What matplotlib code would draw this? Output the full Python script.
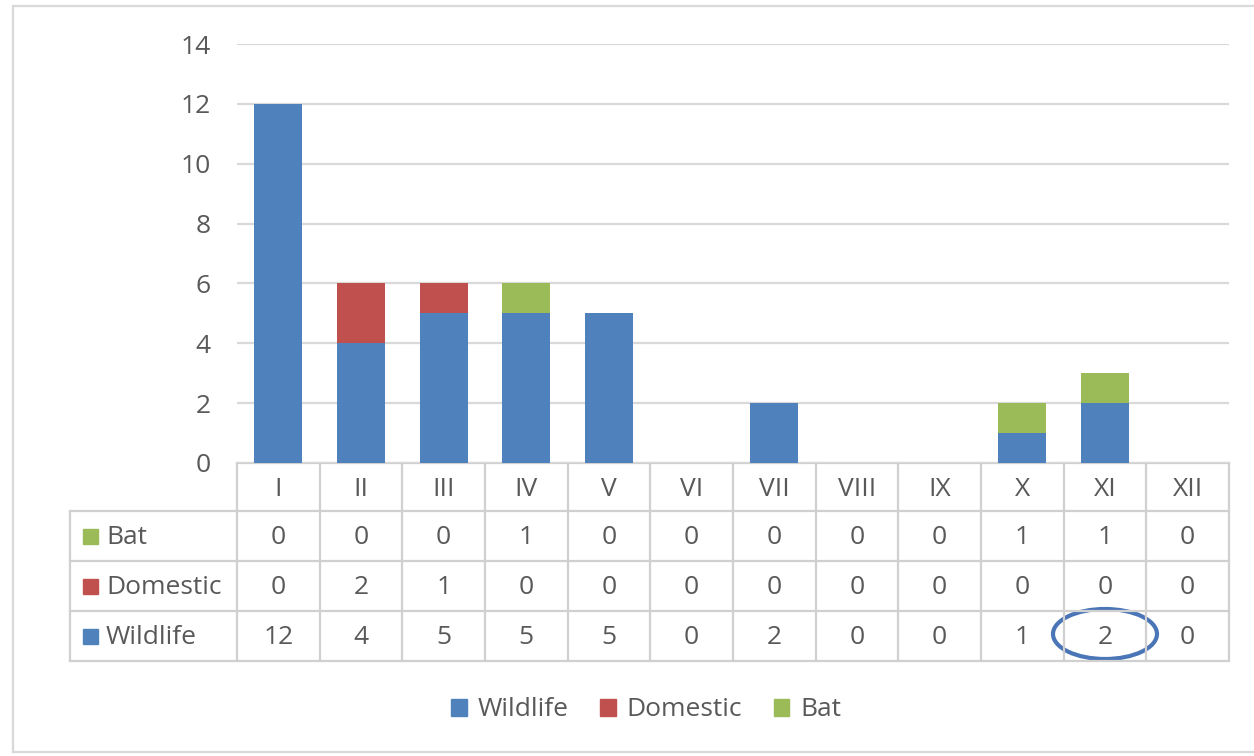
import matplotlib
matplotlib.use("Agg")
import matplotlib.pyplot as plt
from matplotlib.patches import Patch, Rectangle, Ellipse
import numpy as np

months = ["I", "II", "III", "IV", "V", "VI", "VII", "VIII", "IX", "X", "XI", "XII"]
wildlife = [12, 4, 5, 5, 5, 0, 2, 0, 0, 1, 2, 0]
domestic = [0, 2, 1, 0, 0, 0, 0, 0, 0, 0, 0, 0]
bat = [0, 0, 0, 1, 0, 0, 0, 0, 0, 1, 1, 0]
yticks = [0, 2, 4, 6, 8, 10, 12, 14]

C_WILD = "#4F81BD"
C_DOM = "#C0504D"
C_BAT = "#9BBB59"
TXT = "#595959"
GRID = "#D9D9D9"
FONT = ["Open Sans", "DejaVu Sans"]
plt.rcParams["font.family"] = FONT
FS = 19

W, H = 1254, 756
fig = plt.figure(figsize=(W / 100, H / 100), dpi=100)

# overlay axes in pixel coordinates (y downward)
ov = fig.add_axes([0, 0, 1, 1])
ov.set_xlim(0, W)
ov.set_ylim(H, 0)
ov.axis("off")

ax = fig.add_axes([237 / W, 1 - 463 / H, (1229 - 237) / W, (463 - 44) / H])
x = np.arange(len(months))
bw = 0.58
wild = np.array(wildlife)
dom = np.array(domestic)
bt = np.array(bat)
ax.bar(x, wild, bw, color=C_WILD, zorder=3)
ax.bar(x, dom, bw, bottom=wild, color=C_DOM, zorder=3)
ax.bar(x, bt, bw, bottom=wild + dom, color=C_BAT, zorder=3)
ax.set_xlim(-0.5, len(months) - 0.5)
ax.set_ylim(0, 14)
ax.set_yticks(yticks)
ax.yaxis.grid(True, color=GRID, lw=1.6, zorder=0)
ax.set_xticks([])
ax.tick_params(axis="y", length=0, pad=19, labelsize=FS, labelcolor=TXT)
for s in ax.spines.values():
    s.set_visible(False)
ax.patch.set_alpha(0)

fig.canvas.draw()

def px(xd):
    # data x -> overlay pixel x
    disp = ax.transData.transform((xd, 0))
    return ov.transData.inverted().transform(disp)[0]

col_edges = [px(i - 0.5) for i in range(len(months) + 1)]
col_centers = [px(i) for i in range(len(months))]
left = col_edges[0]
right = col_edges[-1]
row_y = [463, 511, 561, 611, 661]
label_left = 70
lc = "#D0D0D0"
lw = 1.6

# horizontal lines
ov.plot([left, right], [row_y[0], row_y[0]], color=lc, lw=lw)
for yy in row_y[1:]:
    ov.plot([label_left, right], [yy, yy], color=lc, lw=lw)
# vertical lines
for xe in col_edges:
    ov.plot([xe, xe], [row_y[0], row_y[-1]], color=lc, lw=lw)
ov.plot([label_left, label_left], [row_y[1], row_y[-1]], color=lc, lw=lw)

# header
hc = (row_y[0] + row_y[1]) / 2 + 2
for cx, m in zip(col_centers, months):
    ov.text(cx, hc, m, ha="center", va="center", fontsize=FS, color=TXT)

rows = [("Bat", bat, C_BAT), ("Domestic", domestic, C_DOM), ("Wildlife", wildlife, C_WILD)]
for r, (name, vals, col) in enumerate(rows):
    yc = (row_y[r + 1] + row_y[r + 2]) / 2 + 2
    ov.add_patch(Rectangle((83, yc - 9), 15, 15, color=col))
    ov.text(106, yc, name, ha="left", va="center", fontsize=FS, color=TXT)
    for cx, v in zip(col_centers, vals):
        ov.text(cx, yc, str(v), ha="center", va="center", fontsize=FS, color=TXT)

# annotation ellipse around XI wildlife cell
ov.add_patch(Ellipse((col_centers[10], 634), 104, 50, fill=False, ec="#4A76B8", lw=3))

# outer border
ov.plot([13, W + 5], [6, 6], color=GRID, lw=1.6)
ov.plot([13, 13], [6, 752], color=GRID, lw=1.6)
ov.plot([13, W + 5], [752, 752], color=GRID, lw=1.6)

# legend
handles = [Patch(color=C_WILD, label="Wildlife"), Patch(color=C_DOM, label="Domestic"),
           Patch(color=C_BAT, label="Bat")]
leg = fig.legend(handles=handles, loc="center", bbox_to_anchor=(646 / W, 1 - 710 / H), ncol=3,
                 frameon=False, fontsize=FS, handlelength=0.6, handleheight=0.6,
                 handletextpad=0.4, columnspacing=1.2)
for t in leg.get_texts():
    t.set_color(TXT)

fig.savefig("out.png", dpi=100)
